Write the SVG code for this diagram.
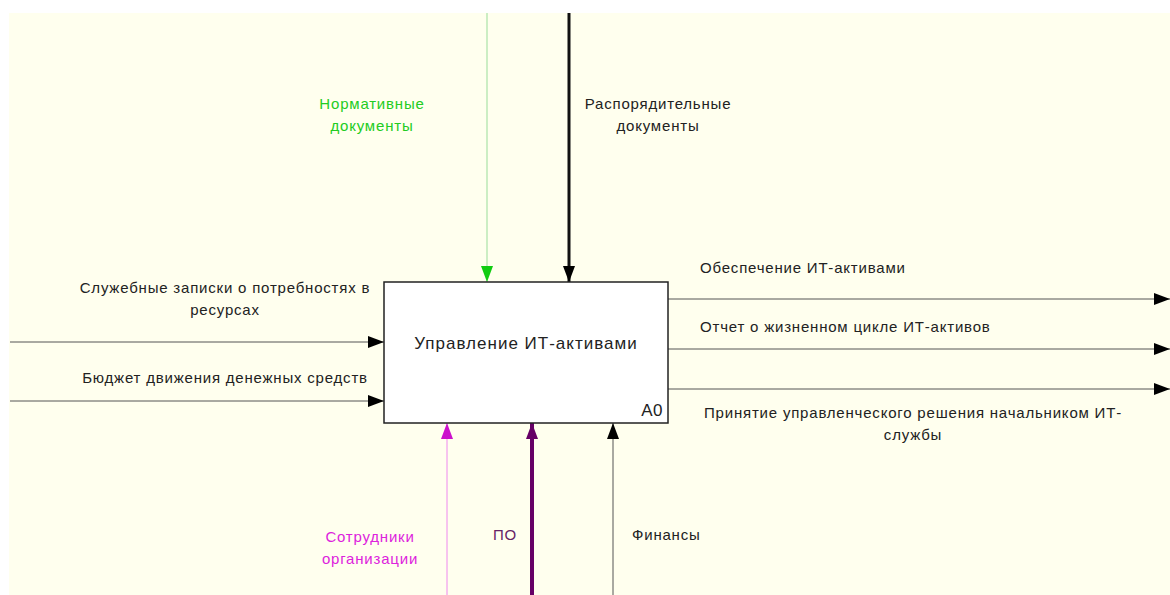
<svg xmlns="http://www.w3.org/2000/svg" width="1170" height="595" viewBox="0 0 1170 595">
<style>
text{font-family:"Liberation Sans",Arial,sans-serif;font-size:15px;letter-spacing:0.8px;fill:#222}
.c{text-anchor:middle}
.ln{fill:none;stroke:#555;stroke-width:1}
</style>
<defs>
<marker id="ab" markerWidth="16" markerHeight="12" refX="16" refY="6" orient="auto" markerUnits="userSpaceOnUse"><path d="M0,0L16,6L0,12z" fill="#000"/></marker>
<marker id="ag" markerWidth="16" markerHeight="12" refX="16" refY="6" orient="auto" markerUnits="userSpaceOnUse"><path d="M0,0L16,6L0,12z" fill="#11CC11"/></marker>
<marker id="am" markerWidth="16" markerHeight="12" refX="16" refY="6" orient="auto" markerUnits="userSpaceOnUse"><path d="M0,0L16,6L0,12z" fill="#CC11CC"/></marker>
<marker id="ap" markerWidth="16" markerHeight="12" refX="16" refY="6" orient="auto" markerUnits="userSpaceOnUse"><path d="M0,0L16,6L0,12z" fill="#660066"/></marker>
</defs>
<rect x="0" y="0" width="1170" height="595" fill="#fff"/>
<rect x="9" y="13" width="1161" height="582" fill="#FFFFEE"/>
<g id="connectors">
<line x1="487" y1="13" x2="487" y2="282" stroke="#99DD99" stroke-width="1" marker-end="url(#ag)"/>
<line x1="569" y1="13" x2="569" y2="282" stroke="#111" stroke-width="3" marker-end="url(#ab)"/>
<line class="ln" x1="10" y1="342" x2="384" y2="342" marker-end="url(#ab)"/>
<line class="ln" x1="10" y1="401" x2="384" y2="401" marker-end="url(#ab)"/>
<line class="ln" x1="668" y1="299" x2="1170" y2="299" marker-end="url(#ab)"/>
<line class="ln" x1="668" y1="349" x2="1170" y2="349" marker-end="url(#ab)"/>
<line class="ln" x1="668" y1="389" x2="1170" y2="389" marker-end="url(#ab)"/>
<line x1="447" y1="595" x2="447" y2="423" stroke="#EE88EE" stroke-width="1" marker-end="url(#am)"/>
<line x1="532" y1="595" x2="532" y2="423" stroke="#660066" stroke-width="4" marker-end="url(#ap)"/>
<line class="ln" x1="613" y1="595" x2="613" y2="423" marker-end="url(#ab)"/>
</g>
<g id="labels">
<text class="c" x="372" y="109" style="fill:#22CC22">Нормативные</text>
<text class="c" x="372" y="131" style="fill:#22CC22">документы</text>
<text class="c" x="658" y="109">Распорядительные</text>
<text class="c" x="658" y="131">документы</text>
<text class="c" x="225" y="293">Служебные записки о потребностях в</text>
<text class="c" x="225" y="315">ресурсах</text>
<text class="c" x="225" y="383">Бюджет движения денежных средств</text>
<text x="700" y="273">Обеспечение ИТ-активами</text>
<text x="700" y="332">Отчет о жизненном цикле ИТ-активов</text>
<text class="c" x="913" y="418">Принятие управленческого решения начальником ИТ-</text>
<text class="c" x="913" y="440">службы</text>
<text class="c" x="370" y="542" style="fill:#DD22DD">Сотрудники</text>
<text class="c" x="370" y="564" style="fill:#DD22DD">организации</text>
<text class="c" x="505" y="540" style="fill:#662266">ПО</text>
<text x="632" y="540">Финансы</text>
</g>
<g id="A0">
<rect x="384" y="282" width="284" height="141" fill="#fff" stroke="#222" stroke-width="1.5"/>
<text class="c" x="526" y="349" style="font-size:17px;letter-spacing:1px">Управление ИТ-активами</text>
<text x="663" y="416" style="font-size:17px;letter-spacing:0.5px;text-anchor:end">A0</text>
</g>
</svg>
